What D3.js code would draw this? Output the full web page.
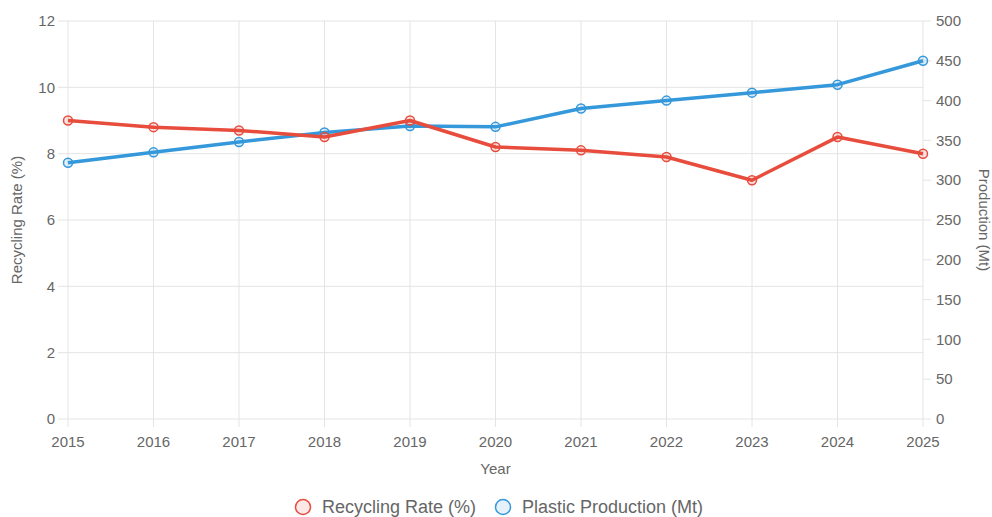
<!DOCTYPE html>
<html>
<head>
<meta charset="utf-8">
<script src="https://cdn.jsdelivr.net/npm/d3@7"></script>
<style>
  html, body { margin: 0; padding: 0; background: #fff; }
  svg { display: block; font-family: "Liberation Sans", Arial, sans-serif; }
</style>
</head>
<body>
<div id="chart"></div>
<script>
var years = [2015, 2016, 2017, 2018, 2019, 2020, 2021, 2022, 2023, 2024, 2025];
var recyclingRate = [9.0, 8.8, 8.7, 8.5, 9.0, 8.2, 8.1, 7.9, 7.2, 8.5, 8.0];
var production = [322, 335, 348, 360, 368, 367, 390, 400, 410, 420, 450];
var leftTicks = [0, 2, 4, 6, 8, 10, 12];
var rightTicks = [0, 50, 100, 150, 200, 250, 300, 350, 400, 450, 500];

var width = 992, height = 517;
var margin = { top: 21, right: 69, bottom: 98, left: 68 };
var red = '#e74c3c', blue = '#3498db';
var gridColor = '#e4e4e4', textColor = '#666';

var svg = d3.select('#chart').append('svg')
  .attr('width', width).attr('height', height);

var x = d3.scalePoint().domain(years).range([margin.left, width - margin.right]);
var yL = d3.scaleLinear().domain([0, 12]).range([height - margin.bottom, margin.top]);
var yR = d3.scaleLinear().domain([0, 500]).range([height - margin.bottom, margin.top]);

var x0 = margin.left, x1 = width - margin.right;
var yBottom = height - margin.bottom, yTop = margin.top;

// Grid: horizontal from left axis, vertical per year
var grid = svg.append('g');
grid.selectAll('line.h').data(leftTicks).join('line')
  .attr('x1', x0 - 10).attr('x2', x1)
  .attr('y1', function (d) { return yL(d); }).attr('y2', function (d) { return yL(d); })
  .attr('stroke', gridColor).attr('stroke-width', 1);
grid.selectAll('line.v').data(years).join('line')
  .attr('x1', function (d) { return x(d); }).attr('x2', function (d) { return x(d); })
  .attr('y1', yTop).attr('y2', yBottom + 8)
  .attr('stroke', gridColor).attr('stroke-width', 1);

// Right axis tick marks
grid.selectAll('line.r').data(rightTicks).join('line')
  .attr('x1', x1).attr('x2', x1 + 8)
  .attr('y1', function (d) { return yR(d); }).attr('y2', function (d) { return yR(d); })
  .attr('stroke', gridColor).attr('stroke-width', 1);

// Tick labels
svg.append('g').selectAll('text').data(leftTicks).join('text')
  .attr('x', x0 - 13).attr('y', function (d) { return yL(d); })
  .attr('dy', '0.35em').attr('text-anchor', 'end')
  .attr('font-size', 15).attr('fill', textColor)
  .text(function (d) { return d; });

svg.append('g').selectAll('text').data(rightTicks).join('text')
  .attr('x', x1 + 13).attr('y', function (d) { return yR(d); })
  .attr('dy', '0.35em').attr('text-anchor', 'start')
  .attr('font-size', 15).attr('fill', textColor)
  .text(function (d) { return d; });

svg.append('g').selectAll('text').data(years).join('text')
  .attr('x', function (d) { return x(d); }).attr('y', yBottom + 28)
  .attr('text-anchor', 'middle')
  .attr('font-size', 15).attr('fill', textColor)
  .text(function (d) { return d; });

// Axis titles
svg.append('text')
  .attr('x', (x0 + x1) / 2).attr('y', yBottom + 55)
  .attr('text-anchor', 'middle').attr('font-size', 15).attr('fill', textColor)
  .text('Year');
svg.append('text')
  .attr('transform', 'translate(22,' + ((yTop + yBottom) / 2) + ') rotate(-90)')
  .attr('text-anchor', 'middle').attr('font-size', 15).attr('fill', textColor)
  .text('Recycling Rate (%)');
svg.append('text')
  .attr('transform', 'translate(979,' + ((yTop + yBottom) / 2) + ') rotate(90)')
  .attr('text-anchor', 'middle').attr('font-size', 15).attr('fill', textColor)
  .text('Production (Mt)');

// Series
var series = [
  { name: 'Plastic Production (Mt)', values: production, scale: yR, color: blue, fill: 'rgba(52,152,219,0.15)' },
  { name: 'Recycling Rate (%)', values: recyclingRate, scale: yL, color: red, fill: 'rgba(231,76,60,0.15)' }
];

series.forEach(function (s) {
  var line = d3.line()
    .x(function (d, i) { return x(years[i]); })
    .y(function (d) { return s.scale(d); });
  svg.append('path').datum(s.values)
    .attr('d', line).attr('fill', 'none')
    .attr('stroke', s.color).attr('stroke-width', 3.5)
    .attr('stroke-linejoin', 'round');
  svg.append('g').selectAll('circle').data(s.values).join('circle')
    .attr('cx', function (d, i) { return x(years[i]); })
    .attr('cy', function (d) { return s.scale(d); })
    .attr('r', 4.5)
    .attr('fill', s.fill).attr('stroke', s.color).attr('stroke-width', 1.5);
});

// Legend
var legendItems = [
  { name: 'Recycling Rate (%)', color: red, fill: 'rgba(231,76,60,0.12)', cx: 303 },
  { name: 'Plastic Production (Mt)', color: blue, fill: 'rgba(52,152,219,0.12)', cx: 503 }
];
var legend = svg.append('g').selectAll('g').data(legendItems).join('g');
legend.append('circle')
  .attr('cx', function (d) { return d.cx; }).attr('cy', 507).attr('r', 7.5)
  .attr('fill', function (d) { return d.fill; })
  .attr('stroke', function (d) { return d.color; }).attr('stroke-width', 1.5);
legend.append('text')
  .attr('x', function (d) { return d.cx + 19; }).attr('y', 507).attr('dy', '0.35em')
  .attr('font-size', 18).attr('fill', textColor)
  .text(function (d) { return d.name; });
</script>
</body>
</html>
